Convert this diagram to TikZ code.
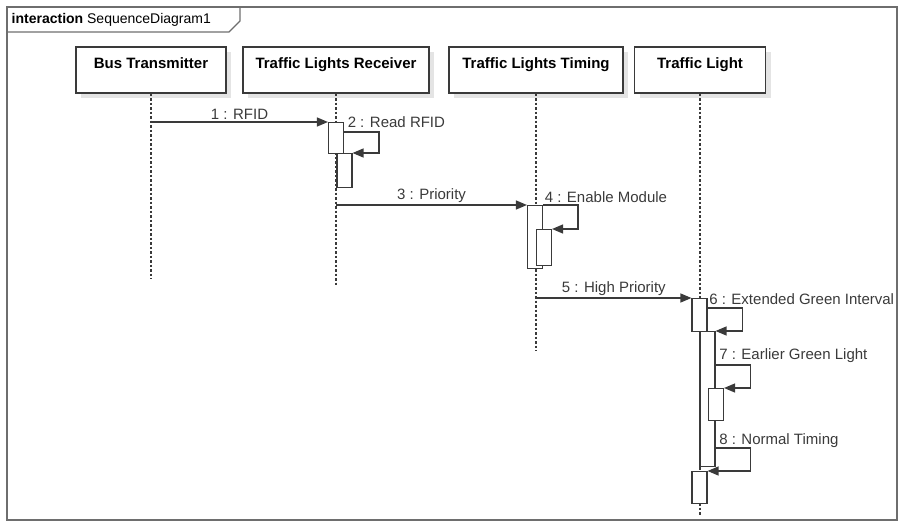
\documentclass[tikz,border=0pt]{standalone}
\usepackage{fontspec}
\setmainfont{Liberation Sans}
\usepackage{xcolor}
\usepackage{tikz}
\usetikzlibrary{arrows.meta,positioning,calc,shadows}
\definecolor{sqline}{HTML}{3A3A3A}
\definecolor{sqframe}{HTML}{6E6E6E}
\definecolor{sqshade}{HTML}{E4E4E4}

\begin{document}
\begin{tikzpicture}[
    x=1pt,y=-1pt,
    hd/.style   = {rectangle,draw=sqline,fill=white,line width=1.1pt,inner xsep=0pt,inner ysep=0pt,
                   font=\fontsize{15}{17}\selectfont\bfseries,text height=21pt,text depth=25pt,
                   drop shadow={shadow xshift=5pt,shadow yshift=-5pt,fill=sqshade,opacity=1}},
    act/.style  = {rectangle,draw=sqline,fill=white,line width=1.1pt,inner sep=0pt,
                   minimum width=15pt,anchor=north},
    lf/.style   = {sqline,line width=1.3pt,dash pattern=on 2.5pt off 2pt},
    msg/.style  = {-{Triangle[length=11pt,width=9pt]},sqline,line width=1.2pt},
    lbl/.style  = {font=\fontsize{15}{17}\selectfont,text=sqline,inner sep=1.5pt},
  ]
  \useasboundingbox (0,0) rectangle (900,522);

  % frame
  \draw[sqframe,line width=1.5pt] (7,7) rectangle (897,520);
  \draw[sqframe,line width=1.3pt] (7,32) -- (229,32) -- (240,21) -- (240,7);
  \node[lbl,anchor=west,font=\fontsize{14}{16}\selectfont,text=black] (ttl) at (10,20)
       {\textbf{interaction} SequenceDiagram1};

  \node[hd,minimum width=150pt] (bus) at (151,70)  {Bus Transmitter};
  \node[hd,minimum width=186pt] (rcv) at (336,70)  {Traffic Lights Receiver};
  \node[hd,minimum width=174pt] (tim) at (536,70)  {Traffic Lights Timing};
  \node[hd,minimum width=131pt] (lgt) at (700,70)  {Traffic Light};

  \draw[lf] (bus.south) -- ++(0,185);
  \draw[lf] (rcv.south) -- ++(0,192);
  \draw[lf] (tim.south) -- ++(0,257);
  \draw[lf] (lgt.south) -- ++(0,422);

  \node[act,minimum height=31pt]  (a2)  at (336,122)   {};
  \node[act,minimum height=34pt]  (a2b) at (344.5,153) {};
  \node[act,minimum height=63pt]  (a4)  at (535,205)   {};
  \node[act,minimum height=36pt]  (a4b) at (544,229)   {};
  \node[act,minimum height=33pt]  (a6)  at (699.5,298) {};
  \node[act,minimum height=135pt] (a6b) at (707.5,331) {};
  \node[act,minimum height=32pt]  (a7)  at (716,388)   {};
  \node[act,minimum height=32pt]  (a8)  at (699.5,471) {};

  \draw[msg] (bus.south |- a2.north) -- node[lbl,above] (m1) {1 : RFID} (a2.north west);
  \draw[msg] ([yshift=-10pt]a2.north east) -- ++(35,0) |- (a2b.north east);
  \node[lbl,anchor=base west] (m2) at ([xshift=2pt,yshift=-5pt]a2.north east) {2 : Read RFID};

  \draw[msg] (rcv.south |- a4.north) -- node[lbl,above] (m3) {3 : Priority} (a4.north west);
  \draw[msg] (a4.north east) -- ++(35,0) |- (a4b.north east);
  \node[lbl,anchor=base west] (m4) at ([xshift=0pt,yshift=3pt]a4.north east) {4 : Enable Module};

  \draw[msg] (tim.south |- a6.north) -- node[lbl,above] (m5) {5 : High Priority} (a6.north west);
  \draw[msg] ([yshift=-10pt]a6.north east) -- ++(35,0) |- (a6b.north east);
  \node[lbl,anchor=base west] (m6) at ([xshift=0pt,yshift=-6pt]a6.north east) {6 : Extended Green Interval};

  \draw[msg] ([yshift=-34pt]a6b.north east) -- ++(35,0) |- (a7.north east);
  \node[lbl,anchor=base west] (m7) at ([xshift=2pt,yshift=-28pt]a6b.north east) {7 : Earlier Green Light};

  \draw[msg] ([yshift=-117pt]a6b.north east) -- ++(35,0) |- (a8.north east);
  \node[lbl,anchor=base west] (m8) at ([xshift=2pt,yshift=-113pt]a6b.north east) {8 : Normal Timing};

\end{tikzpicture}
\end{document}
